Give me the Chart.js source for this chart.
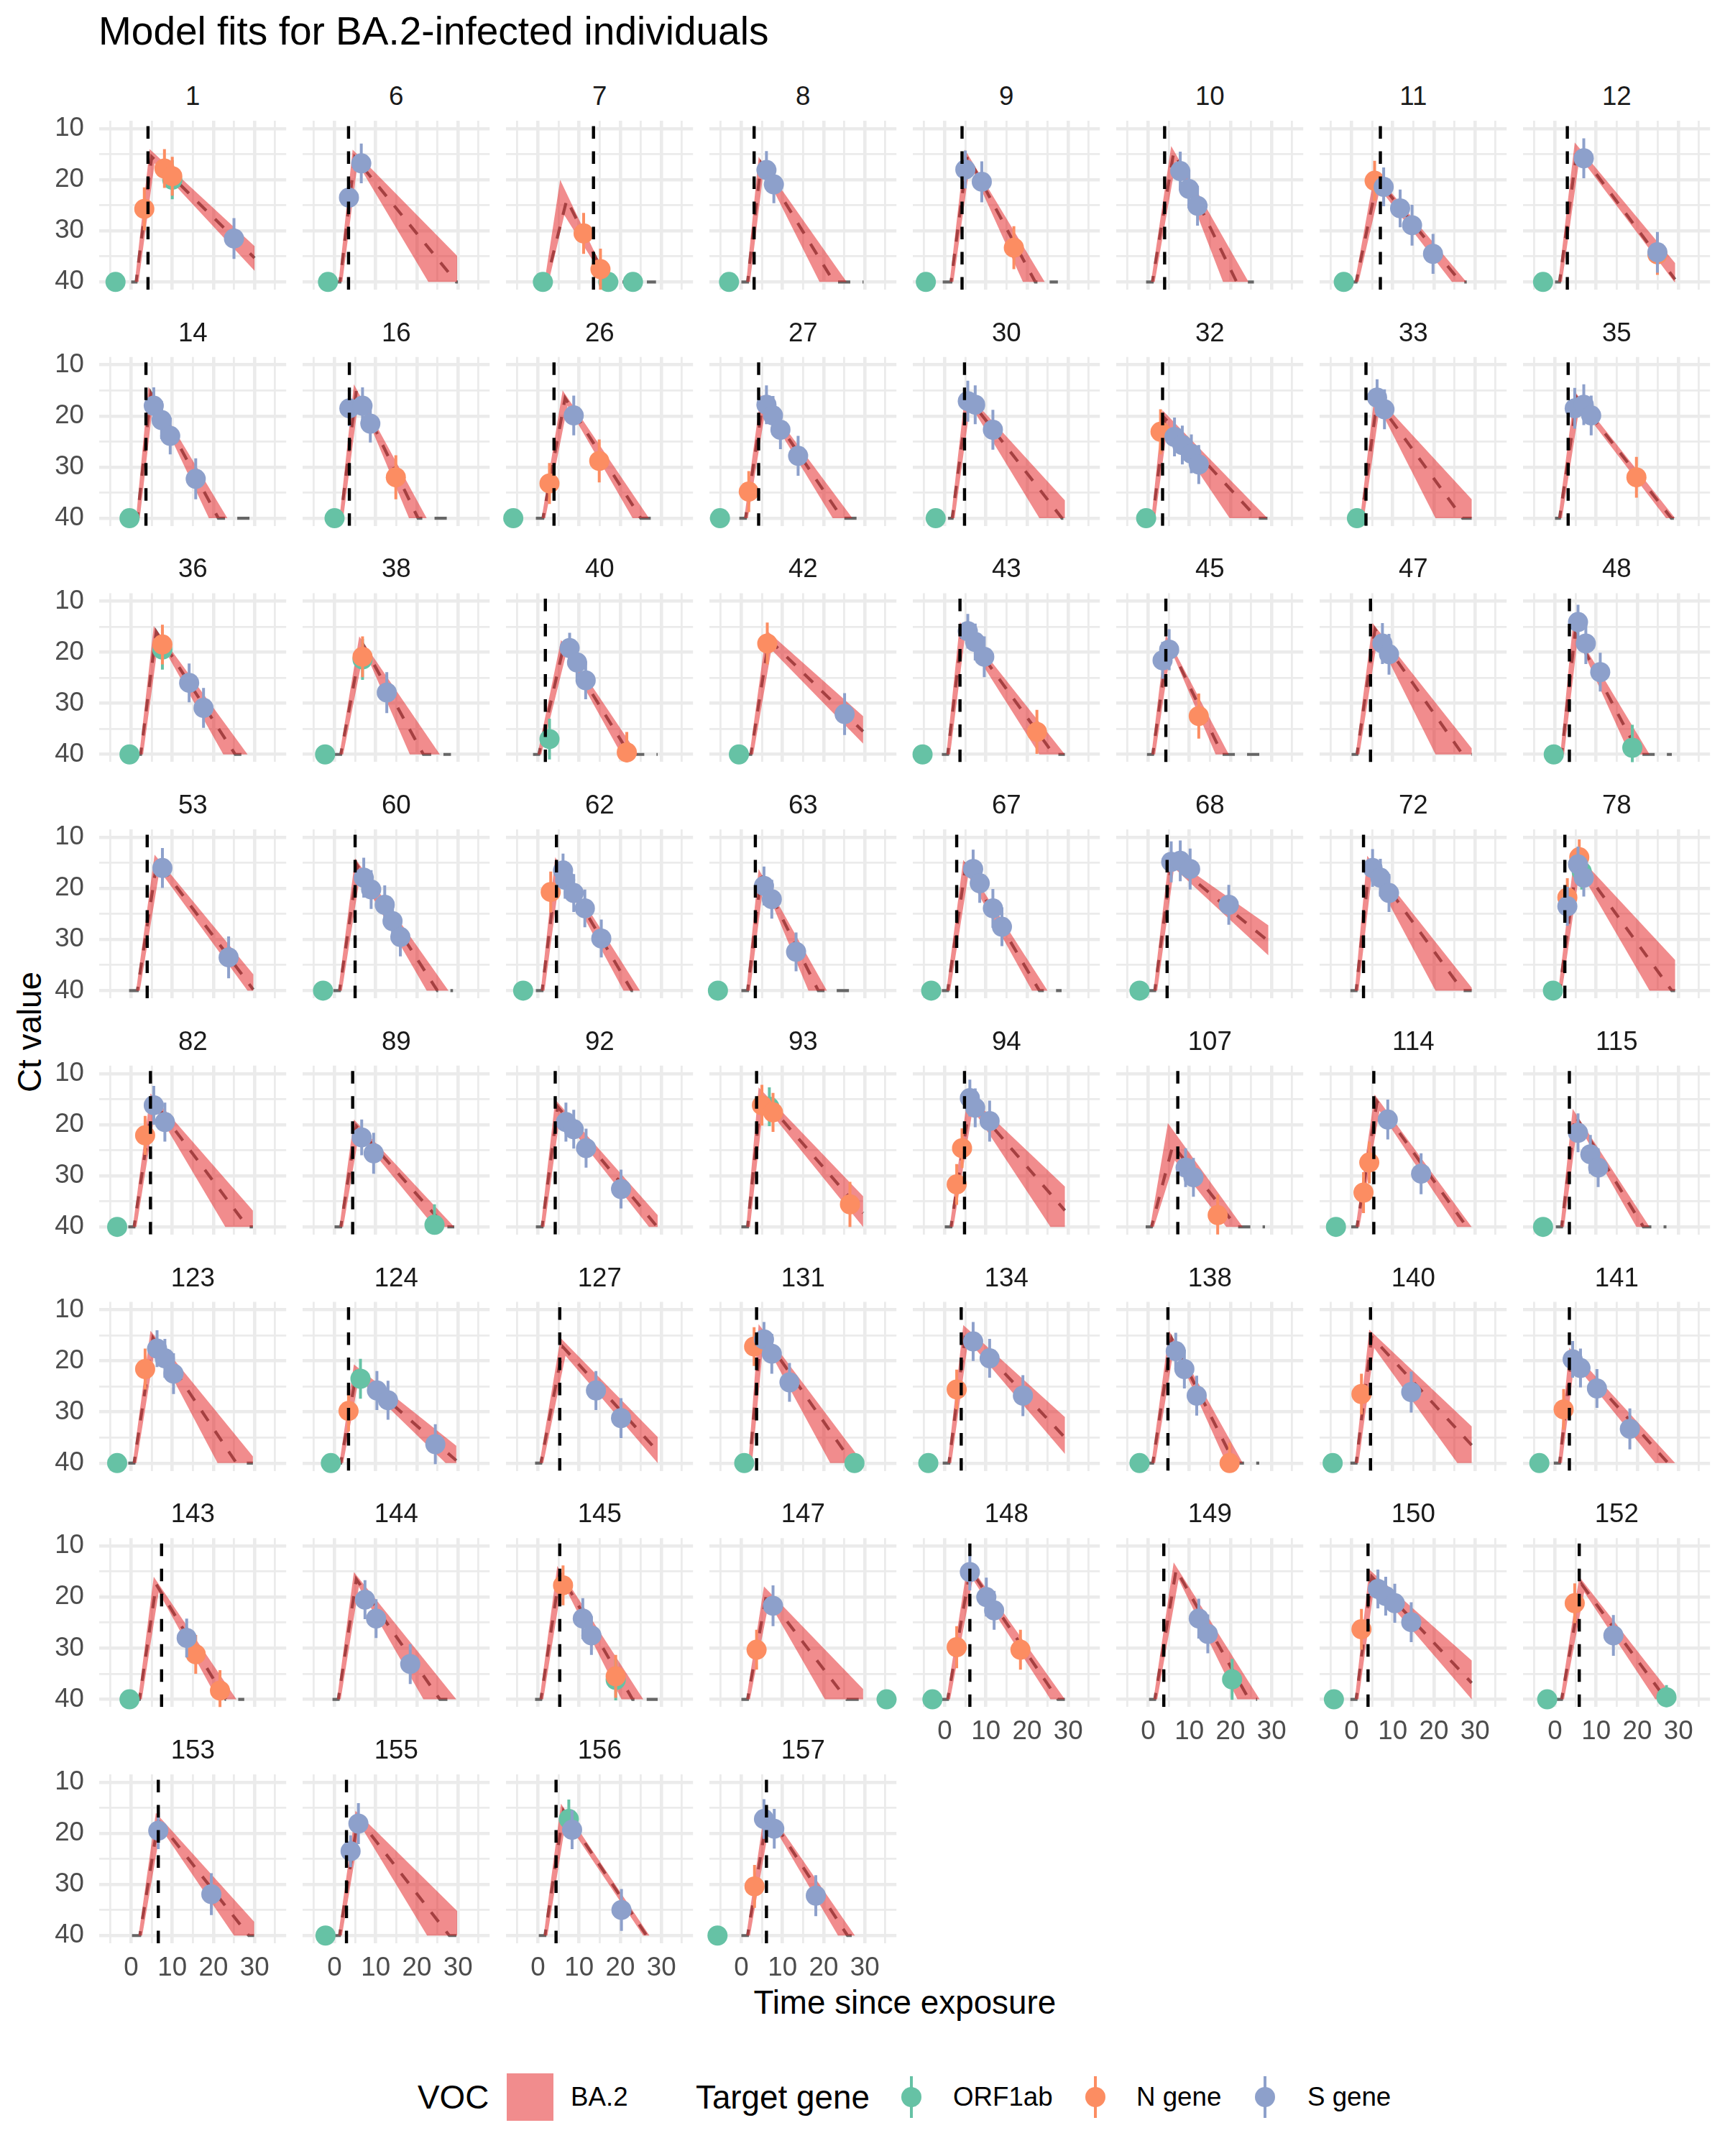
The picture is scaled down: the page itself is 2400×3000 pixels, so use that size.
<!DOCTYPE html>
<html><head><meta charset="utf-8">
<script src="https://cdn.jsdelivr.net/npm/chart.js@4.4.1/dist/chart.umd.min.js"></script>
<style>
html,body{margin:0;padding:0;background:#fff}
body{position:relative;width:2400px;height:3000px;overflow:hidden;font-family:"Liberation Sans",Arial,Helvetica,sans-serif}
.t{position:absolute;white-space:nowrap;line-height:1;color:#000}
canvas{position:absolute}
</style></head><body>
<div class="t" style="left:137px;top:16.4px;font-size:55px">Model fits for BA.2-infected individuals</div>
<div class="t" style="left:1258.8px;top:2764.2px;font-size:45.8px;transform:translateX(-50%)">Time since exposure</div>
<div class="t" style="left:42px;top:1436px;font-size:45.8px;transform:translate(-50%,-50%) rotate(-90deg)">Ct value</div>
<div id="legend"></div>
<script>
// ---------------- data ----------------
const panelIds = ['1','6','7','8','9','10','11','12','14','16','26','27','30','32','33','35','36','38','40','42','43','45','47','48','53','60','62','63','67','68','72','78','82','89','92','93','94','107','114','115','123','124','127','131','134','138','140','141','143','144','145','147','148','149','150','152','153','155','156','157'];

// day of the dashed vertical line (null = none)
const onsetDay = [4.1,3.4,13.5,3.1,4.2,4.0,7.0,3.0, 3.6,3.6,3.9,4.2,4.8,3.5,3.5,3.2, null,null,1.8,null,3.7,4.3,4.6,3.5, 3.9,5.0,4.5,3.4,2.9,4.6,2.9,2.4, 4.7,4.4,4.2,3.7,4.8,7.2,5.4,3.5, null,3.4,5.3,3.7,4.0,4.8,4.6,3.5, 7.4,null,5.3,null,6.1,3.8,4.0,5.9, 6.6,2.9,4.4,6.1];

// median trajectory vertices (day, Ct) flattened
const medianCurve = [
[0,40, 1.2,40, 5.0,15.5, 30,35.3],
[-0.5,40, 1.3,40, 4.9,15.6, 29.6,40, 30,40],
[1.0,40, 2.0,40, 7.0,23.9, 17.0,40, 28.7,40],
[0,40, 1.5,40, 4.8,16.8, 22.5,40, 29.7,40],
[-0.5,40, 1.5,40, 5.5,15.3, 22,40, 27.5,40],
[-0.5,40, 1.0,40, 6.2,14.6, 21.5,40, 25.7,40],
[0,40, 1.1,40, 6.3,20, 26.5,40, 28,40],
[0,40, 1.1,40, 5.4,13.9, 29.2,39.5],
[0,40, 1.5,40, 4.8,15.5, 21.2,40, 29.6,40],
[0,40, 1.5,40, 5.3,15, 20.3,40, 29.6,40],
[-0.5,40, 1.2,40, 6.6,16.5, 25,40, 29.2,40],
[-0.5,40, 1.0,40, 5.3,17, 24.5,40, 28.9,40],
[0.8,40, 1.8,40, 5.6,16.3, 28.5,40, 29.2,40],
[-0.5,40, 1.1,40, 4.1,20.5, 26.5,40, 29,40],
[1.0,40, 2.4,40, 6.2,17, 27,40, 29.2,40],
[0,40, 1.1,40, 5.4,16.5, 28.3,40, 29.2,40],
[1.0,40, 2.3,40, 6.1,16, 25.3,40, 29.6,40],
[0,40, 1.5,40, 6.6,18, 21.6,40, 28.3,40],
[-1.2,40, 0.2,40, 6.2,19, 22.3,40, 29.1,40],
[1.0,40, 2.3,40, 6.7,17.5, 29.6,35.5],
[-0.7,40, 0.7,40, 4.3,15.3, 26.5,40, 29.2,40],
[-0.3,40, 1.1,40, 4.9,18, 18,40, 28.4,40],
[0,40, 1.3,40, 5.7,15.5, 27,40, 29.2,40],
[0.2,40, 1.6,40, 4.9,16.2, 20.5,40, 28.4,40],
[-0.5,40, 1.5,40, 6.3,14.6, 29.7,39.8],
[-0.3,40, 1.2,40, 5.6,15.6, 25,40, 28.8,40],
[-0.5,40, 1.0,40, 4.8,15.3, 22.8,40, 25.6,40],
[0,40, 1.5,40, 4.8,17.5, 18.7,40, 29,40],
[-0.7,40, 0.7,40, 5.1,15.6, 23,40, 28.4,40],
[0.2,40, 1.6,40, 5.7,14.8, 29.2,30.3],
[-0.3,40, 1.1,40, 4.4,15, 27,40, 29.2,40],
[-0.3,40, 1.1,40, 5.4,14.5, 28.4,40, 29.2,40],
[-0.7,40, 0.7,40, 5.3,15.3, 28.3,40, 29.6,40],
[0,40, 1.5,40, 5.3,20.3, 27,40, 29.1,40],
[-0.5,40, 1.0,40, 4.8,16.5, 29,40, 29.1,40],
[0,40, 1.5,40, 4.8,14.3, 29.6,37.3],
[0,40, 1.5,40, 6.2,15.4, 29.2,36.8],
[-0.6,40, 0.8,40, 6.0,24.0, 21.5,40, 28.4,40],
[-0.1,40, 1.3,40, 6.2,15.5, 28,40, 29.2,40],
[0.2,40, 1.6,40, 4.9,18.2, 21.5,40, 27.1,40],
[-0.7,40, 0.7,40, 5.3,15.5, 25.6,40, 29.6,40],
[0,40, 1.5,40, 5.3,22.3, 29.6,39.5],
[-0.7,40, 0.7,40, 6.1,17.3, 29.1,37.7],
[0.7,40, 2.0,40, 4.8,14.3, 27,40, 29.6,40],
[-0.5,40, 1.0,40, 5.1,14.3, 29.2,35],
[-0.3,40, 1.1,40, 5.7,15.6, 21,40, 27,40],
[-0.3,40, 1.1,40, 4.9,15.3, 29.2,36.5],
[-0.3,40, 1.1,40, 4.1,19, 27.5,40, 29.2,40],
[0.6,40, 2.0,40, 6.1,17.5, 23,40, 27.5,40],
[-0.5,40, 0.9,40, 5.3,16.5, 25.6,40, 29.6,40],
[-0.7,40, 0.7,40, 5.3,15.3, 23,40, 29.1,40],
[0,40, 1.5,40, 6.1,19.5, 25.6,40, 29.6,40],
[-0.7,40, 0.7,40, 6.2,14.6, 27.5,40, 29.2,40],
[0.2,40, 1.6,40, 6.8,14.6, 24.5,40, 26.5,40],
[-0.3,40, 1.1,40, 4.9,16, 29.2,36.8],
[0.2,40, 1.6,40, 6.5,17.5, 27,40, 29.2,40],
[0.2,40, 2.1,40, 6.6,17.5, 28.6,40, 29.9,40],
[-0.3,40, 1.2,40, 5.7,17, 27.9,40, 29.8,40],
[0.2,40, 1.7,40, 6.2,15.6, 26.4,40, 28.5,40],
[0,40, 1.5,40, 6.4,16, 25.8,40, 28.6,40]
];

// credible band: upper edge (low Ct) vertices
const bandUpper = [
[0.9,40, 4.5,14.0, 30,33.0],
[1.0,40, 4.4,14.1, 29.8,34.9],
[1.6,40, 5.4,20.0, 17.2,40],
[1.2,40, 4.2,15.5, 25.6,40],
[1.2,40, 4.9,14.1, 24.3,40],
[0.7,40, 5.6,13.4, 24.4,40],
[0.8,40, 5.6,18.6, 27.9,40],
[0.8,40, 4.8,12.7, 29.2,36.3],
[1.2,40, 4.2,14.3, 23.4,40],
[1.2,40, 4.7,13.8, 22.4,40],
[0.9,40, 6.0,15, 27,40],
[0.7,40, 4.7,15.9, 27,40],
[1.5,40, 5.0,15.2, 29.2,36.5],
[0.8,40, 3.5,18.9, 29,40],
[2.1,40, 5.6,15.7, 29.2,36.3],
[0.8,40, 4.8,15.2, 29.2,40],
[2.0,40, 5.5,14.9, 28.3,40],
[1.2,40, 6.0,16.9, 25.6,40],
[-0.1,40, 5.6,17.6, 24.3,40],
[2.0,40, 6.1,15.7, 29.6,32.5],
[0.4,40, 3.7,14.1, 29.2,40],
[0.8,40, 4.3,16.6, 19.6,40],
[1.0,40, 5.1,14.3, 29.2,38.8],
[1.3,40, 4.3,15, 23,40],
[1.2,40, 5.7,13.4, 29.7,36.8],
[0.9,40, 5.0,14.1, 27.7,40],
[0.7,40, 4.2,13.9, 24.8,40],
[1.2,40, 4.2,16.2, 20.8,40],
[0.4,40, 4.5,14.4, 25,40],
[1.3,40, 5.1,13.6, 29.2,27.2],
[0.8,40, 3.8,13.6, 29.2,39.4],
[0.8,40, 4.8,12.9, 29.2,34],
[0.4,40, 4.7,13.9, 29.6,36.8],
[1.2,40, 4.7,19, 29.1,40],
[0.7,40, 4.2,15.1, 29.1,37.7],
[1.2,40, 4.2,12.7, 29.6,34],
[1.2,40, 5.6,14.1, 29.2,32.1],
[0.5,40, 4.8,19.7, 23,40],
[1.0,40, 5.6,14.1, 29.2,40],
[1.3,40, 4.3,16.9, 23,40],
[0.4,40, 4.7,14.1, 29.6,38.7],
[1.2,40, 4.7,20.7, 29.6,36.6],
[0.4,40, 5.5,15.5, 29.1,34.9],
[1.7,40, 4.2,12.8, 29.6,40],
[0.7,40, 4.5,13, 29.2,31],
[0.8,40, 5.1,14.1, 23,40],
[0.8,40, 4.3,13.9, 29.2,32.8],
[0.8,40, 3.5,17.4, 29.2,40],
[1.7,40, 5.5,16, 25.6,40],
[0.6,40, 4.7,15.1, 29.6,40],
[0.4,40, 4.7,13.9, 25.6,40],
[1.2,40, 5.5,17.9, 29.6,38],
[0.4,40, 5.6,13.2, 29.2,40],
[1.3,40, 6.2,13.2, 27.1,40],
[0.8,40, 4.3,14.6, 29.2,32.4],
[1.3,40, 5.9,16, 29.2,40],
[1.8,40, 6.0,16, 29.9,37.3],
[0.9,40, 5.1,15.6, 29.8,35.2],
[1.4,40, 5.6,14.2, 27.1,40],
[1.2,40, 5.8,14.6, 27.6,40]
];

// credible band: lower edge (high Ct) vertices
const bandLower = [
[1.8,40, 5.7,16.8, 30,37.8],
[1.9,40, 5.6,16.8, 22.8,40, 29.8,40],
[2.6,40, 6.4,26.9, 16.6,40],
[2.1,40, 5.4,18.2, 19,40],
[2.1,40, 6.1,17, 19,40],
[1.6,40, 6.8,16.2, 18.2,40],
[1.7,40, 6.9,21.8, 24.4,40],
[1.7,40, 6.0,15.5, 29.0,40, 29.2,40],
[2.1,40, 5.4,17, 18.9,40],
[2.1,40, 5.9,16.5, 18.1,40],
[1.8,40, 7.2,18, 23,40],
[1.6,40, 5.9,18.5, 22.2,40],
[2.4,40, 6.2,17.8, 23,40, 29.2,40],
[1.7,40, 4.7,22, 19.8,40],
[3.0,40, 6.8,18.5, 20.4,40, 29.2,40],
[1.7,40, 6.0,18, 27,40],
[2.9,40, 6.7,17.5, 22.4,40],
[2.1,40, 7.2,19.5, 18.3,40],
[0.8,40, 6.8,20.5, 20.3,40],
[2.9,40, 7.3,19.5, 29.6,37.9],
[1.3,40, 4.9,17, 23,40],
[1.7,40, 5.5,19.5, 16.4,40],
[1.9,40, 6.3,17.3, 20.4,40, 29.2,40],
[2.2,40, 5.5,17.5, 18.2,40],
[2.1,40, 6.9,16.5, 28.3,40, 29.7,40],
[1.8,40, 6.2,17.5, 22.4,40],
[1.6,40, 5.4,17, 20.8,40],
[2.1,40, 5.4,19, 16.3,40],
[1.3,40, 5.7,17.5, 21.2,40],
[2.2,40, 6.3,16, 29.2,33.1],
[1.7,40, 5.0,16.8, 20.4,40, 29.2,40],
[1.7,40, 6.0,16.5, 23,40, 29.2,40],
[1.3,40, 5.9,17, 22.9,40, 29.6,40],
[2.1,40, 5.9,22, 24.3,40],
[1.6,40, 5.4,18, 27,40, 29.1,40],
[2.1,40, 5.4,16, 29.6,40],
[2.1,40, 6.8,17, 25.7,40, 29.2,40],
[1.4,40, 6.5,27, 19,40],
[1.9,40, 6.8,17.3, 25.7,40],
[2.2,40, 5.5,19.8, 19.8,40],
[1.3,40, 5.9,17, 21,40, 29.6,40],
[2.1,40, 5.9,23.5, 27,40, 29.6,40],
[1.3,40, 6.7,19, 29.1,40],
[2.6,40, 5.4,16, 21.6,40],
[1.6,40, 5.7,16, 29.2,38.2],
[1.7,40, 6.3,17.3, 19,40],
[1.7,40, 5.5,17.5, 25.7,40, 29.2,40],
[1.7,40, 4.7,20.5, 24.4,40],
[2.6,40, 6.7,19, 21,40],
[1.5,40, 5.9,18, 21.6,40],
[1.3,40, 5.9,17, 20.3,40],
[2.1,40, 6.7,21, 20.3,40, 29.6,40],
[1.3,40, 6.8,16.5, 25.7,40],
[2.2,40, 7.4,16.5, 21.7,40],
[1.7,40, 5.5,17.8, 29.2,40],
[2.2,40, 7.1,19, 24.4,40],
[2.7,40, 7.2,19, 25,40, 29.9,40],
[1.8,40, 6.3,18.5, 22.5,40, 29.8,40],
[2.3,40, 6.8,17.5, 25.6,40],
[2.1,40, 7.0,17.5, 23.5,40]
];

// observations: [gene index, day, Ct, error half-width]
const geneNames = ['ORF1ab','N gene','S gene'];
const observations = [
[[0,-3.8,40,0],[0,10,20,3.8],[1,3.2,25.7,4.2],[1,8.1,17.8,3.8],[1,10,19.3,3.8],[2,25,31.5,4]],
[[0,-1.6,40,0],[2,3.5,23.5,2.8],[2,6.5,16.8,3.9]],
[[0,1.2,40,0],[0,17.1,40,0],[0,23.1,40,0],[1,11.1,30.5,4],[1,15.2,37.5,4]],
[[0,-3.0,40,0],[2,6.1,18.1,3.7],[2,7.9,20.9,3.7]],
[[0,-4.6,40,0],[1,16.8,33.3,4.2],[2,5.0,18.0,3.7],[2,9.0,20.4,4]],
[[2,7.8,18.3,3.8],[2,9.9,21.8,3.8],[2,12,25.1,3.9]],
[[0,-1.9,40,0],[1,5.6,20.2,3.9],[2,7.8,21.4,3.8],[2,11.8,25.6,3.7],[2,14.7,28.9,4],[2,19.8,34.5,3.9]],
[[0,-2.9,40,0],[1,24.9,34.6,4],[2,7.0,15.8,3.9],[2,24.9,34.2,4]],
[[0,-0.4,40,0],[2,5.5,18,3.6],[2,7.4,20.8,3.7],[2,9.5,23.9,3.6],[2,15.7,32.3,4]],
[[0,0,40,0],[1,14.9,32,4.3],[2,3.6,18.5,3.5],[2,6.8,18,3.6],[2,8.7,21.5,3.7]],
[[0,-6.0,40,0],[1,2.8,33.2,4],[1,14.9,28.8,4.2],[2,8.7,19.9,3.9]],
[[0,-5.2,40,0],[1,1.8,34.8,4],[2,6.1,17.8,3.8],[2,7.7,19.9,3.8],[2,9.5,22.7,3.8],[2,13.8,27.8,3.9]],
[[0,-2.2,40,0],[2,5.6,17.1,4],[2,7.4,17.8,3.8],[2,11.7,22.7,3.9]],
[[0,-0.5,40,0],[1,3.0,23.1,4.4],[2,6.4,24.1,3.8],[2,8.3,25.7,3.8],[2,10.5,27.4,3.8],[2,12.3,29.5,3.8]],
[[0,1.3,40,0],[2,6.2,16.4,3.6],[2,8.0,18.7,3.9]],
[[1,19.8,32,4],[2,4.8,18.5,4],[2,7.0,17.8,4],[2,8.8,19.9,3.9]],
[[0,-0.4,40,0],[0,7.6,19.5,3.9],[1,7.6,18.5,3.9],[2,14.1,26,3.8],[2,17.6,30.9,3.9]],
[[0,-2.3,40,0],[0,6.8,21.4,4],[1,6.8,20.9,4],[2,12.7,27.9,4]],
[[0,2.8,37,4],[1,21.6,39.6,4],[2,7.7,19.2,3],[2,9.5,22,3.8],[2,11.6,25.5,3.7]],
[[0,-0.6,40,0],[1,6.3,18.3,4.1],[2,25.1,32.1,4.1]],
[[0,-5.4,40,0],[1,22.4,35.6,4.3],[2,5.6,15.9,3.4],[2,7.4,18,3.6],[2,9.6,20.9,4]],
[[1,12.3,32.5,4.4],[2,3.5,21.6,3.6],[2,5.1,19.5,4]],
[[2,7.5,18.3,4],[2,9.1,20.4,4]],
[[0,-0.3,40,0],[0,18.8,38.7,4.5],[2,5.6,14.1,3.4],[2,7.5,18.3,4],[2,11,23.9,3.8]],
[[2,7.6,16,3.9],[2,23.7,33.5,4.1]],
[[0,-2.8,40,0],[2,7.1,17.9,3.9],[2,8.9,20.2,3.8],[2,12.2,23.2,3.8],[2,14.1,26.4,3.8],[2,16,29.5,3.8]],
[[0,-3.6,40,0],[1,3.1,20.7,4],[2,6.1,16.5,3.3],[2,6.6,18.3,3.7],[2,8.7,20.9,3.7],[2,11.4,23.9,3.7],[2,15.4,29.8,3.7]],
[[0,-5.7,40,0],[2,5.5,19.5,3.8],[2,7.4,22.1,3.8],[2,13.3,32.4,3.8]],
[[0,-3.3,40,0],[2,6.9,16.2,3.8],[2,8.5,19,3.8],[2,11.7,23.9,3.8],[2,13.9,27.5,3.8]],
[[0,-2.1,40,0],[2,5.6,14.8,4],[2,7.8,14.6,4],[2,10.2,16.2,4],[2,19.6,23.2,3.9]],
[[2,5.1,16,3.7],[2,7.0,17.9,3.7],[2,9.1,20.9,3.7]],
[[0,-0.5,40,0],[0,6.5,16.7,3.5],[1,5.9,13.9,3.5],[1,3.0,21.8,3.8],[2,5.6,15.3,3.5],[2,7.0,17.9,3.7],[2,3.0,23.5,3.8]],
[[0,-3.4,40,0],[1,3.4,22.1,3.8],[2,5.5,16.2,3.8],[2,8.2,19.5,3.8]],
[[0,24.3,39.6,4],[2,6.6,22.5,3.5],[2,9.5,25.6,4]],
[[2,6.8,19.5,3.8],[2,8.7,20.9,3.8],[2,11.7,24.6,3.8],[2,20.2,32.6,3.8]],
[[0,6.8,16.5,3.8],[1,5.0,16.2,4],[1,7.7,17.6,3.8],[1,26.4,35.6,4.4]],
[[1,2.9,31.7,4],[1,4.2,24.6,3.9],[2,6.1,14.8,3.6],[2,7.4,16.7,3.8],[2,10.9,19.3,4]],
[[1,16.9,37.7,4],[2,9.1,28.4,3.8],[2,11,30.3,3.8]],
[[0,-3.8,40,0],[1,2.9,33.3,4],[1,4.3,27.4,4.1],[2,8.8,19,3.9],[2,16.9,29.6,4]],
[[0,-2.9,40,0],[2,5.6,21.6,3.8],[2,8.6,25.8,3.8],[2,10.5,28.4,3.8]],
[[0,-3.4,40,0],[1,3.4,21.6,4],[2,6.3,17.6,3.6],[2,8.2,19.5,3.8],[2,10.3,22.5,4]],
[[0,-0.9,40,0],[0,6.3,23.5,3.9],[1,3.4,29.8,4],[2,10.3,25.8,3.8],[2,13,27.7,3.8],[2,24.5,36.3,3.9]],
[[2,14.1,25.8,3.8],[2,20.2,31.2,3.9]],
[[0,0.7,40,0],[0,27.5,40,0],[1,3.1,17.2,3.8],[2,5.5,15.8,3.4],[2,7.4,18.6,3.9],[2,11.7,24.2,3.8]],
[[0,-4,40,0],[1,2.9,25.6,3.9],[2,6.9,16.2,3.8],[2,10.9,19.5,3.8],[2,19,26.8,4]],
[[0,-2.1,40,0],[1,19.8,40,4],[2,6.7,18.1,3.6],[2,8.8,21.6,3.8],[2,11.8,26.8,3.9]],
[[0,-4.6,40,0],[1,2.4,26.5,4],[2,14.5,26.1,4]],
[[0,-3.8,40,0],[1,2.1,29.5,4],[2,4.3,19.7,3.6],[2,6.2,21.4,3.8],[2,10.2,25.4,3.8],[2,18.2,33.3,4]],
[[0,-0.4,40,0],[1,15.7,31.2,3.8],[1,21.6,38.3,4],[2,13.5,28,3.8]],
[[2,7.4,20.5,3.8],[2,10.1,24.2,3.8],[2,18.4,33.1,3.9]],
[[0,18.9,36.2,4],[1,6.1,17.7,3.9],[1,18.9,35.5,4.2],[2,10.9,24.2,4],[2,13,27.5,3.8]],
[[0,35.3,40,0],[1,3.7,30.3,3.9],[2,7.7,21.7,4]],
[[0,-3,40,0],[1,2.9,29.8,4.1],[1,18.4,30.3,3.9],[2,6.1,15.1,3.6],[2,10.1,20,3.8],[2,12,22.6,3.8]],
[[0,20.4,36.1,4],[2,12.3,24.2,3.9],[2,14.5,27.2,3.8]],
[[0,-4.3,40,0],[1,2.4,26.3,4],[2,6.4,18.4,3.8],[2,8.3,19.8,3.8],[2,10.5,21.2,3.8],[2,14.5,24.9,3.9]],
[[0,-1.9,40,0],[0,27.1,39.6,2.4],[1,4.8,21.2,3.9],[2,14.2,27.5,4]],
[[2,6.6,19.5,3.6],[2,19.5,31.9,4.1]],
[[0,-2.2,40,0],[2,3.9,23.5,3.1],[2,5.8,18.1,4]],
[[0,7.5,17.2,3.8],[2,8.3,19.3,3.8],[2,20.3,35,4.1]],
[[0,-5.8,40,0],[1,3.2,30.4,4.2],[2,5.5,17.2,3.9],[2,8.0,19.1,3.9],[2,18.1,32.2,4]]
];

const xTicks = [-5,0,5,10,15,20,25,30,35];
const xTickLabels = ['','0','','10','','20','','30',''];
const yTicks = [10,15,20,25,30,35,40];
const yTickLabels = ['10','','20','','30','','40'];
const xRange = [-7.7, 37.7];
const yRange = [8.45, 41.5];
const vocLabel = 'BA.2';

// ---------------- styling / layout ----------------
const FONT = '"Liberation Sans", Arial, Helvetica, sans-serif';
Chart.defaults.font.family = FONT;
const geneColors = ['#66C2A5','#FC8D62','#8DA0CB'];
const BAND_COLOR = 'rgba(228,26,28,0.5)';
const G = {left0:138.4, top0:168, dx:283.0, dy:328.7, w:259.8, h:235, stripY:134};
const NCOL = 8;

function pairs(a){const o=[];for(let k=0;k<a.length;k+=2)o.push({x:a[k],y:a[k+1]});return o;}
function addText(txt, css){const d=document.createElement('div');d.className='t';d.textContent=txt;Object.assign(d.style,css);document.body.appendChild(d);return d;}

panelIds.forEach((id,i)=>{
  const r=Math.floor(i/NCOL), c=i%NCOL;
  const L=G.left0+c*G.dx, T=G.top0+r*G.dy;
  const cl=Math.floor(L-100), ct=Math.floor(T-60);
  const offL=L-cl, offT=T-ct;
  const cw=Math.ceil(offL+G.w+20), ch=Math.ceil(offT+G.h+75);
  const padR=cw-offL-G.w, padB=ch-offT-G.h;
  const showY=(c===0), showX=(i>=panelIds.length-NCOL);

  // strip label
  addText(id,{left:(L+G.w/2)+'px',top:(G.stripY+r*G.dy)+'px',fontSize:'36.7px',color:'#1A1A1A',transform:'translate(-50%,-50%)'});

  const cv=document.createElement('canvas');
  cv.width=cw; cv.height=ch;
  cv.style.left=cl+'px'; cv.style.top=ct+'px'; cv.style.width=cw+'px'; cv.style.height=ch+'px';
  document.body.appendChild(cv);

  const band = pairs(bandUpper[i]).concat(pairs(bandLower[i]).reverse());
  const ds=[];
  ds.push({label:'median',data:pairs(medianCurve[i]),borderColor:'#666666',borderWidth:4.2,borderDash:[17,17],pointRadius:0,fill:false,tension:0,order:20});
  ds.push({label:vocLabel,data:band,borderWidth:0,borderColor:'rgba(0,0,0,0)',backgroundColor:BAND_COLOR,pointRadius:0,fill:'shape',tension:0,order:19});
  geneNames.forEach((g,gi)=>{
    const obs=observations[i].filter(o=>o[0]===gi);
    if(!obs.length) return;
    const bars=[];
    obs.forEach(o=>{ if(o[3]>0){ bars.push({x:o[1],y:o[2]-o[3]},{x:o[1],y:o[2]+o[3]},{x:o[1],y:null}); } });
    ds.push({label:g+' err',data:bars,borderColor:geneColors[gi],borderWidth:4,pointRadius:0,fill:false,spanGaps:false,order:18-2*gi});
    ds.push({label:g,data:obs.map(o=>({x:o[1],y:o[2]})),showLine:false,pointRadius:14,pointHoverRadius:14,pointBackgroundColor:geneColors[gi],pointBorderWidth:0,pointBorderColor:geneColors[gi],order:17-2*gi,clip:false});
  });
  if(onsetDay[i]!==null){
    ds.push({label:'onset',data:[{x:onsetDay[i],y:yRange[1]},{x:onsetDay[i],y:yRange[0]}],borderColor:'#000000',borderWidth:4.4,borderDash:[17.5,17.5],pointRadius:0,fill:false,order:0});
  }

  new Chart(cv,{
    type:'line',
    data:{datasets:ds},
    options:{
      responsive:false, animation:false, devicePixelRatio:1, events:[],
      layout:{padding:{left:0,top:offT,right:padR,bottom:0}},
      plugins:{legend:{display:false},tooltip:{enabled:false},title:{display:false}},
      scales:{
        x:{type:'linear',min:xRange[0],max:xRange[1],
          afterBuildTicks:s=>{s.ticks=xTicks.map(v=>({value:v}));},
          afterFit:s=>{s.height=padB;},
          grid:{color:'#EBEBEB',lineWidth:ctx=>(ctx.tick&&ctx.tick.value%10===0)?4.6:2.8,drawTicks:false},
          border:{display:false},
          ticks:{display:showX,autoSkip:false,maxRotation:0,minRotation:0,padding:12.5,color:'#4D4D4D',font:{family:FONT,size:36.7},
            callback:v=>{const k=xTicks.indexOf(v);return k<0?'':xTickLabels[k];}}
        },
        y:{type:'linear',reverse:true,min:yRange[0],max:yRange[1],
          afterBuildTicks:s=>{s.ticks=yTicks.map(v=>({value:v}));},
          afterFit:s=>{s.width=offL;},
          grid:{color:'#EBEBEB',lineWidth:ctx=>(ctx.tick&&ctx.tick.value%10===0)?4.6:2.8,drawTicks:false},
          border:{display:false},
          ticks:{display:showY,autoSkip:false,padding:21.4,color:'#4D4D4D',font:{family:FONT,size:36.7},
            callback:v=>{const k=yTicks.indexOf(v);return k<0?'':yTickLabels[k];}}
        }
      }
    }
  });
});

// ---------------- legend ----------------
addText('VOC',{left:'581px',top:'2895.7px',fontSize:'45.8px'});
const sw=document.createElement('div');
Object.assign(sw.style,{position:'absolute',left:'705px',top:'2885px',width:'65px',height:'66px',background:BAND_COLOR});
document.body.appendChild(sw);
addText(vocLabel,{left:'794px',top:'2899.9px',fontSize:'36.7px'});
addText('Target gene',{left:'968px',top:'2895.7px',fontSize:'45.8px'});
const keyX=[1268,1524,1760], labX=[1326,1581,1819];
geneNames.forEach((g,gi)=>{
  const bar=document.createElement('div');
  Object.assign(bar.style,{position:'absolute',left:(keyX[gi]-2)+'px',top:'2889px',width:'4px',height:'58px',background:geneColors[gi]});
  document.body.appendChild(bar);
  const dot=document.createElement('div');
  Object.assign(dot.style,{position:'absolute',left:(keyX[gi]-14)+'px',top:'2904px',width:'28px',height:'28px',borderRadius:'50%',background:geneColors[gi]});
  document.body.appendChild(dot);
  addText(g,{left:labX[gi]+'px',top:'2899.9px',fontSize:'36.7px'});
});
</script>
</body></html>
